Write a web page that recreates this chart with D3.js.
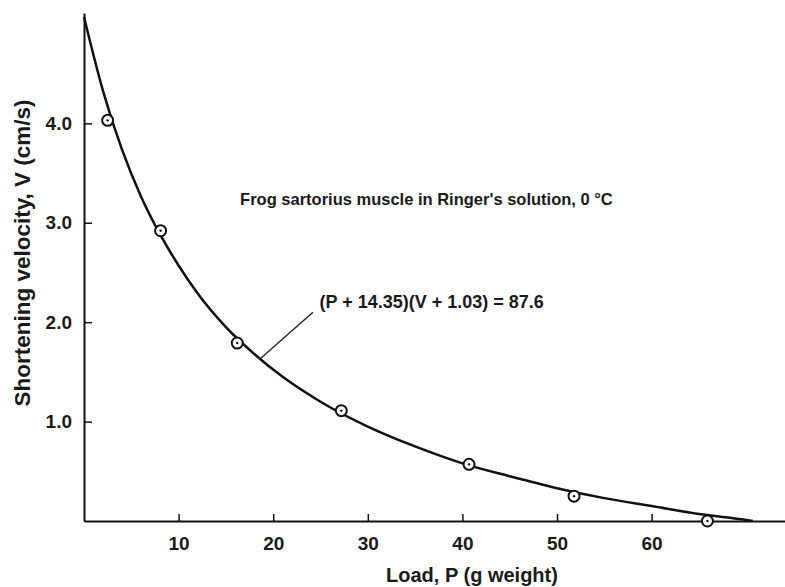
<!DOCTYPE html>
<html>
<head>
<meta charset="utf-8">
<script src="https://cdn.jsdelivr.net/npm/d3@7"></script>
<style>
  body { margin: 0; background: #fff; }
  text { font-family: "Liberation Sans", Arial, sans-serif; font-weight: bold; fill: #1a1a1a; }
</style>
</head>
<body>
<div id="chart"></div>
<script>
// measured points (load P in g weight, velocity V in cm/s)
const loadP = [2.5, 8.1, 16.2, 27.2, 40.7, 51.8, 65.9];
const velV = [4.03, 2.92, 1.79, 1.11, 0.57, 0.25, 0.0];

// fitted curve
const curveP = [0, 2, 4, 6, 8, 10, 12, 15, 18, 21, 25, 30, 35, 40, 45, 50, 55, 60, 65, 70, 70.7];
const curveV = [5.07, 4.33, 3.74, 3.27, 2.89, 2.57, 2.29, 1.95, 1.68, 1.45, 1.20, 0.95, 0.75, 0.58, 0.45, 0.33, 0.23, 0.15, 0.07, 0.01, 0];

const xTicks = [10, 20, 30, 40, 50, 60];
const yTicks = [1.0, 2.0, 3.0, 4.0];

const svgWidth = 785;
const svgHeight = 587;
const margin = { top: 13, right: 0, bottom: 66, left: 84 };

const svg = d3.select("#chart")
  .append("svg")
  .attr("width", svgWidth)
  .attr("height", svgHeight);

const x = d3.scaleLinear()
  .domain([0, 74.1])
  .range([margin.left, svgWidth - margin.right]);

const y = d3.scaleLinear()
  .domain([0, 5.11])
  .range([svgHeight - margin.bottom, margin.top]);

// axes, ticks point inwards
const xAxis = d3.axisBottom(x)
  .tickValues(xTicks)
  .tickSizeInner(-7)
  .tickSizeOuter(0)
  .tickPadding(16);

const yAxis = d3.axisLeft(y)
  .tickValues(yTicks)
  .tickFormat(d3.format(".1f"))
  .tickSizeInner(-8)
  .tickSizeOuter(0)
  .tickPadding(12);

const gx = svg.append("g")
  .attr("transform", `translate(0,${y(0)})`)
  .call(xAxis);

const gy = svg.append("g")
  .attr("transform", `translate(${x(0)},0)`)
  .call(yAxis);

[gx, gy].forEach(g => {
  g.select(".domain").attr("stroke", "#111").attr("stroke-width", 2);
  g.selectAll(".tick line").attr("stroke", "#111").attr("stroke-width", 1.5);
  g.selectAll(".tick text")
    .attr("font-size", 19)
    .attr("font-family", "Liberation Sans, Arial, sans-serif")
    .attr("font-weight", "bold")
    .attr("fill", "#1a1a1a");
});

// axis titles
svg.append("text")
  .attr("x", 472)
  .attr("y", 582)
  .attr("text-anchor", "middle")
  .attr("font-size", 20)
  .text("Load, P (g weight)");

svg.append("text")
  .attr("transform", `translate(30,253) rotate(-90)`)
  .attr("text-anchor", "middle")
  .attr("font-size", 22.5)
  .text("Shortening velocity, V (cm/s)");

// fitted curve
const line = d3.line()
  .x((d, i) => x(curveP[i]))
  .y(d => y(d))
  .curve(d3.curveMonotoneX);

svg.append("path")
  .datum(curveV)
  .attr("d", line)
  .attr("fill", "none")
  .attr("stroke", "#111")
  .attr("stroke-width", 2.5);

// data points: open circle with centre dot
const pts = svg.selectAll(".pt")
  .data(velV)
  .enter()
  .append("g")
  .attr("class", "pt")
  .attr("transform", (d, i) => `translate(${x(loadP[i])},${y(d)})`);

pts.append("circle")
  .attr("r", 5.5)
  .attr("fill", "#fff")
  .attr("stroke", "#111")
  .attr("stroke-width", 2);

pts.append("circle")
  .attr("r", 1.2)
  .attr("fill", "#111");

// annotations
svg.append("text")
  .attr("x", x(16.5))
  .attr("y", y(3.18))
  .attr("font-size", 16.5)
  .text("Frog sartorius muscle in Ringer's solution, 0 \u00B0C");

svg.append("line")
  .attr("x1", x(18.6))
  .attr("y1", y(1.63))
  .attr("x2", x(24.2))
  .attr("y2", y(2.1))
  .attr("stroke", "#222")
  .attr("stroke-width", 1.4);

svg.append("text")
  .attr("x", x(24.9))
  .attr("y", y(2.14))
  .attr("font-size", 18)
  .text("(P + 14.35)(V + 1.03) = 87.6");
</script>
</body>
</html>
